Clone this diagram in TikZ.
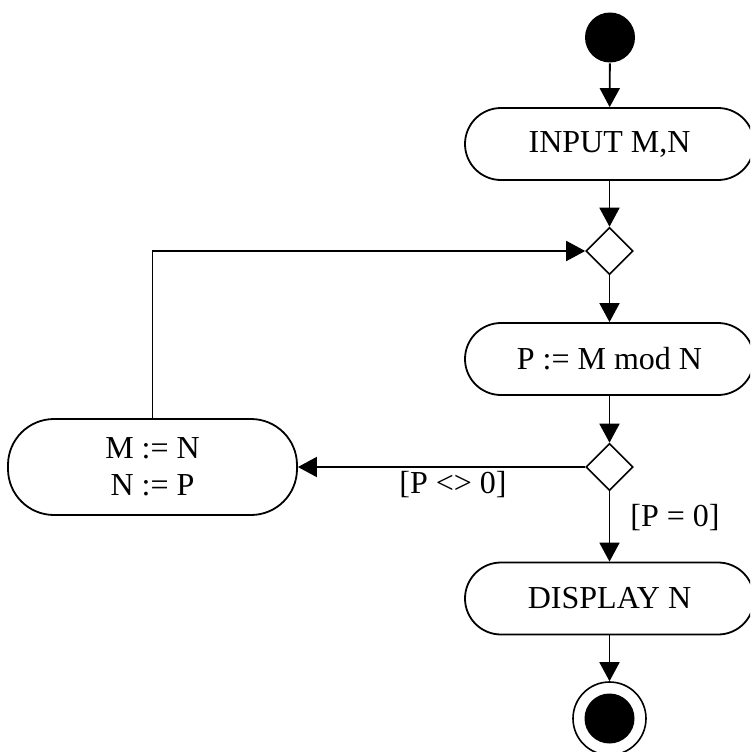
\documentclass[tikz,border=0pt]{standalone}
\usepackage{fontspec}
\setmainfont{Liberation Serif}
\usetikzlibrary{arrows.meta,shapes.geometric}

\begin{document}
\begin{tikzpicture}[x=1pt, y=-1pt, line width=1.8pt,
  every node/.style={font=\fontsize{32}{37}\selectfont, inner sep=0pt},
  action/.style={draw, rectangle, rounded corners=36pt, minimum width=289pt, minimum height=72pt, align=center},
  choice/.style={draw, diamond, minimum width=47pt, minimum height=47pt, line width=1.6pt},
  flow/.style={-{Triangle[length=19pt, width=20pt]}}]
  \clip (0,0) rectangle (750,752);
  \node[circle, fill=black, minimum size=50pt] (start) at (610,37.5) {};
  \node[action] (input) at (609.5,144) {INPUT M,N};
  \node[choice] (merge) at (609.5,251) {};
  \node[action] (calc) at (609.5,359) {P := M mod N};
  \node[choice] (test) at (609.5,467) {};
  \node[action, rounded corners=46pt, minimum height=96pt] (swap) at (152.5,467) {M := N\\N := P};
  \node[action] (show) at (609.5,598.5) {DISPLAY N};
  \node[circle, draw, minimum size=73pt, line width=1.6pt] (stop) at (609.5,718.5) {};
  \node[circle, fill=black, minimum size=50pt] (stopdot) at (stop) {};
  % Draw the control flow
  \draw[flow] (start) -- (input);
  \draw[flow] (input) -- (merge);
  \draw[flow] (merge) -- (calc);
  \draw[flow] (calc) -- (test);
  \draw[flow] (test) -- node[pos=0.46, below, yshift=-3pt] {[P <> 0]} (swap);
  \draw[flow] (test) -- node[pos=0.37, anchor=west, xshift=20pt] {[P = 0]} (show);
  \draw[flow] (show) -- (stop);
  \draw[flow] (swap) |- (merge);
\end{tikzpicture}
\end{document}
